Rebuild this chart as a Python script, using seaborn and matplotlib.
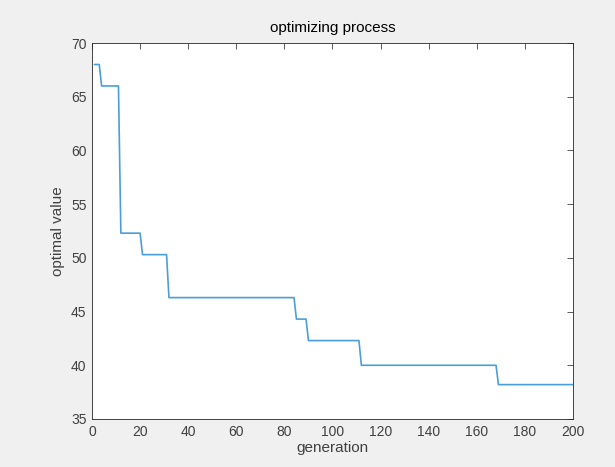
import matplotlib
matplotlib.use("Agg")
import matplotlib.pyplot as plt
import seaborn as sns
import pandas as pd

# vertices of the best-so-far curve (generation, optimal value)
generation = [1, 3, 4, 11, 12, 20, 21, 31, 32, 84, 85, 89, 90, 111, 112, 168, 169, 200]
optimal_value = [68.0, 68.0, 66.0, 66.0, 52.3, 52.3, 50.3, 50.3, 46.3, 46.3,
                 44.3, 44.3, 42.3, 42.3, 40.0, 40.0, 38.2, 38.2]

x_ticks = list(range(0, 201, 20))
y_ticks = list(range(35, 71, 5))

df = pd.DataFrame({"generation": generation, "optimal value": optimal_value})

sns.set_style("white")
plt.rcParams["font.family"] = ["Liberation Sans", "DejaVu Sans"]

fig = plt.figure(figsize=(6.15, 4.67), dpi=100, facecolor="#f0f0f0")
ax = fig.add_axes([0.1496, 0.1028, 0.7821, 0.8051])
ax.set_facecolor("white")

sns.lineplot(data=df, x="generation", y="optimal value", ax=ax,
             color="#4a9fd8", linewidth=1.2, estimator=None, sort=False)

ax.set_xlim(0, 200)
ax.set_ylim(35, 70)
ax.set_xticks(x_ticks)
ax.set_yticks(y_ticks)

text_col = "#404040"
ax.tick_params(direction="in", length=4, width=0.6, colors=text_col,
               labelsize=10, top=True, right=True, pad=4)
for sp in ax.spines.values():
    sp.set_visible(True)
    sp.set_color("#262626")
    sp.set_linewidth(0.6)

ax.set_xlabel("generation", fontsize=11, color=text_col, labelpad=2)
ax.set_ylabel("optimal value", fontsize=11, color=text_col, labelpad=4)
ax.set_title("optimizing process", fontsize=11, color="black", pad=8)

fig.savefig("out.png", dpi=100, facecolor=fig.get_facecolor())
